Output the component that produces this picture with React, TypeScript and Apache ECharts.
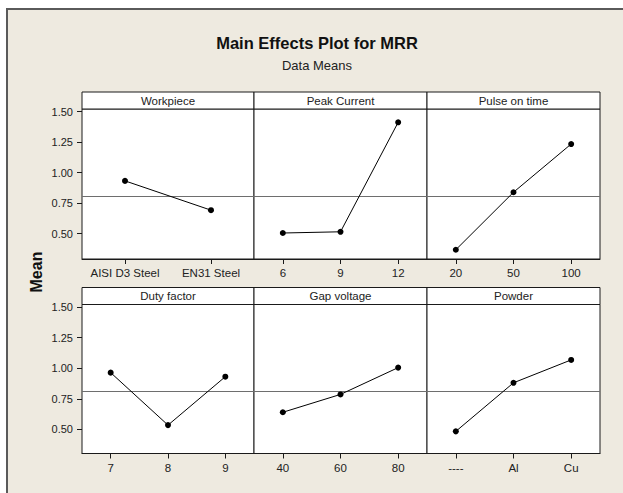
import React, { useEffect, useRef } from "react";
import * as echarts from "echarts";

// ---- data ----
const workpieceCats = ["AISI D3 Steel", "EN31 Steel"];
const workpieceMeans = [0.933, 0.693];
const peakCurrentCats = ["6", "9", "12"];
const peakCurrentMeans = [0.506, 0.516, 1.413];
const pulseOnCats = ["20", "50", "100"];
const pulseOnMeans = [0.369, 0.84, 1.235];
const dutyCats = ["7", "8", "9"];
const dutyMeans = [0.964, 0.535, 0.931];
const gapCats = ["40", "60", "80"];
const gapMeans = [0.64, 0.786, 1.005];
const powderCats = ["----", "Al", "Cu"];
const powderMeans = [0.484, 0.881, 1.068];
const overallMean = 0.807;
const yTickValues = [0.5, 0.75, 1.0, 1.25, 1.5];
const panelTitles = ["Workpiece", "Peak Current", "Pulse on time", "Duty factor", "Gap voltage", "Powder"];

const panels = [
  { cats: workpieceCats, vals: workpieceMeans },
  { cats: peakCurrentCats, vals: peakCurrentMeans },
  { cats: pulseOnCats, vals: pulseOnMeans },
  { cats: dutyCats, vals: dutyMeans },
  { cats: gapCats, vals: gapMeans },
  { cats: powderCats, vals: powderMeans },
];

// ---- layout ----
const colLefts = [82, 254, 427];
const colWidths = [172, 173, 173];
const rowTops = [109, 304.5];
const rowHeights = [150, 149];
const rowMin = [0.293, 0.303];
const rowMax = [1.522, 1.521];
const headerH = 17;
const SANS = "'Liberation Sans', Arial, sans-serif";

export default function App() {
  const ref = useRef<HTMLDivElement>(null);
  useEffect(() => {
    if (!ref.current) return;
    const chart = echarts.init(ref.current, undefined, { renderer: "svg" });
    const grids: any[] = [];
    const xAxes: any[] = [];
    const yAxes: any[] = [];
    const series: any[] = [];
    const graphics: any[] = [];

    panels.forEach((p, i) => {
      const r = Math.floor(i / 3);
      const c = i % 3;
      grids.push({
        left: colLefts[c],
        top: rowTops[r],
        width: colWidths[c],
        height: rowHeights[r],
        show: true,
        backgroundColor: "#ffffff",
        borderColor: "#1a1a1a",
        borderWidth: 1,
        containLabel: false,
      });
      xAxes.push({
        type: "category",
        gridIndex: i,
        data: p.cats,
        boundaryGap: true,
        axisLine: { show: true, lineStyle: { color: "#1a1a1a", width: 1 } },
        axisTick: { show: true, interval: 0, alignWithLabel: true, length: 5, lineStyle: { color: "#1a1a1a" } },
        axisLabel: { show: true, interval: 0, color: "#222", fontFamily: SANS, fontSize: 11.5, margin: 8 },
        splitLine: { show: false },
      });
      yAxes.push({
        type: "value",
        gridIndex: i,
        min: rowMin[r],
        max: rowMax[r],
        axisLine: { show: false },
        axisTick: {
          show: c === 0,
          customValues: yTickValues,
          length: 5,
          lineStyle: { color: "#1a1a1a" },
        },
        axisLabel: {
          show: c === 0,
          customValues: yTickValues,
          formatter: (v: number) => v.toFixed(2),
          color: "#222",
          fontFamily: SANS,
          fontSize: 11,
          margin: 9,
        },
        splitLine: { show: false },
      });
      series.push({
        type: "line",
        xAxisIndex: i,
        yAxisIndex: i,
        data: p.vals,
        symbol: "circle",
        symbolSize: 6,
        itemStyle: { color: "#000" },
        lineStyle: { color: "#000", width: 1 },
        z: 5,
        markLine: {
          silent: true,
          symbol: ["none", "none"],
          label: { show: false },
          lineStyle: { color: "#6e6e6e", type: "solid", width: 1 },
          data: [{ yAxis: overallMean }],
          z: 3,
        },
      });
      graphics.push({
        type: "rect",
        shape: { x: colLefts[c], y: rowTops[r] - headerH, width: colWidths[c], height: headerH },
        style: { fill: "#ffffff", stroke: "#1a1a1a", lineWidth: 1 },
      });
      graphics.push({
        type: "text",
        x: colLefts[c] + colWidths[c] / 2,
        y: rowTops[r] - headerH / 2,
        style: {
          text: panelTitles[i],
          textAlign: "center",
          textVerticalAlign: "middle",
          fill: "#222",
          font: `11.5px ${SANS}`,
        },
      });
    });

    graphics.push({
      type: "text",
      x: 317,
      y: 43,
      style: {
        text: "Main Effects Plot for MRR",
        textAlign: "center",
        textVerticalAlign: "middle",
        fill: "#111",
        font: `bold 16.5px ${SANS}`,
      },
    });
    graphics.push({
      type: "text",
      x: 317,
      y: 65,
      style: {
        text: "Data Means",
        textAlign: "center",
        textVerticalAlign: "middle",
        fill: "#222",
        font: `13px ${SANS}`,
      },
    });
    graphics.push({
      type: "text",
      x: 36,
      y: 272,
      rotation: Math.PI / 2,
      style: {
        text: "Mean",
        textAlign: "center",
        textVerticalAlign: "middle",
        fill: "#111",
        font: `bold 16px ${SANS}`,
      },
    });

    chart.setOption({
      animation: false,
      backgroundColor: "transparent",
      grid: grids,
      xAxis: xAxes,
      yAxis: yAxes,
      series,
      graphic: graphics,
    });
    return () => chart.dispose();
  }, []);

  return (
    <div style={{ position: "fixed", left: 0, top: 0, width: 623, height: 493, background: "#ffffff", overflow: "hidden" }}>
      <div
        style={{
          position: "absolute",
          left: 6,
          top: 8,
          width: 700,
          height: 600,
          background: "#eeeae0",
          borderTop: "2px solid #5a5a5a",
          borderLeft: "2px solid #5a5a5a",
        }}
      />
      <div ref={ref} style={{ position: "absolute", left: 0, top: 0, width: 623, height: 493 }} />
    </div>
  );
}
